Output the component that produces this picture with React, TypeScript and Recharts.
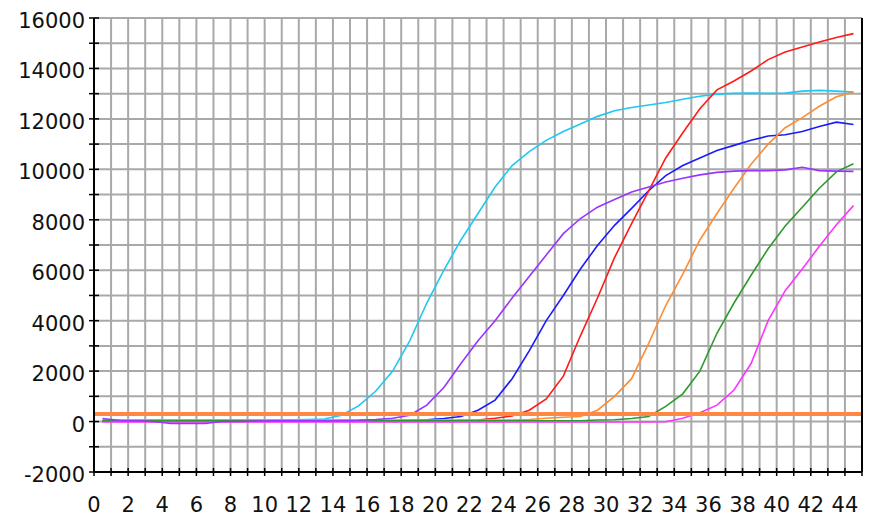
import { LineChart, Line, XAxis, YAxis, CartesianGrid, ReferenceLine } from "recharts";

// cycle positions (plotted between grid lines)
const cycles = [
  0.5, 1.5, 2.5, 3.5, 4.5, 5.5, 6.5, 7.5, 8.5, 9.5, 10.5, 11.5, 12.5, 13.5, 14.5,
  15.5, 16.5, 17.5, 18.5, 19.5, 20.5, 21.5, 22.5, 23.5, 24.5, 25.5, 26.5, 27.5, 28.5, 29.5,
  30.5, 31.5, 32.5, 33.5, 34.5, 35.5, 36.5, 37.5, 38.5, 39.5, 40.5, 41.5, 42.5, 43.5, 44.5,
];

const cyan = [
  60, 60, 60, 60, 60, 60, 60, 60, 60, 60, 60, 70, 80, 100, 250,
  620, 1200, 2000, 3200, 4700, 6000, 7200, 8250, 9300, 10150, 10700, 11150, 11500, 11800, 12100,
  12320, 12450, 12550, 12650, 12780, 12900, 12980, 13010, 13020, 13010, 13020, 13100, 13130, 13100, 13060,
];
const purple = [
  120, 40, 30, 0, -80, -80, -80, 0, 0, 20, 30, 30, 30, 30, 40,
  50, 80, 130, 250, 650, 1350, 2300, 3200, 4000, 4900, 5750, 6600, 7450, 8050, 8500,
  8800, 9100, 9300, 9500, 9650, 9780, 9880, 9930, 9950, 9950, 9980, 10080, 9950, 9930, 9920,
];
const blue = [
  10, 10, 10, 10, 10, 10, 10, 10, 10, 10, 10, 10, 10, 10, 10,
  10, 10, 30, 50, 70, 120, 200, 450, 850, 1700, 2800, 4000, 5000, 6050, 6980,
  7780, 8450, 9150, 9750, 10150, 10450, 10750, 10950, 11150, 11320, 11370, 11500, 11700, 11870, 11780,
];
const red = [
  10, 10, 10, 10, 10, 10, 10, 10, 10, 10, 10, 10, 10, 10, 10,
  10, 10, 10, 10, 10, 10, 50, 60, 130, 220, 450, 900, 1800, 3400, 4900,
  6500, 7850, 9150, 10450, 11450, 12400, 13150, 13500, 13900, 14350, 14650, 14850, 15050, 15230, 15380,
];
const orange = [
  60, 60, 60, 60, 60, 60, 60, 60, 60, 60, 60, 60, 60, 60, 60,
  60, 60, 60, 60, 60, 60, 60, 60, 60, 60, 80, 130, 170, 200, 450,
  1000, 1700, 3100, 4600, 5850, 7200, 8250, 9250, 10200, 11000, 11650, 12050, 12500, 12880, 13060,
];
const green = [
  30, 30, 30, 30, 30, 30, 30, 30, 30, 30, 30, 30, 30, 30, 30,
  30, 30, 30, 30, 30, 30, 30, 30, 30, 30, 30, 30, 30, 30, 60,
  70, 120, 200, 600, 1100, 2000, 3500, 4700, 5800, 6850, 7750, 8500, 9250, 9900, 10220,
];
const magenta = [
  -20, -20, -20, -20, -20, -20, -20, -20, -20, -20, -20, -20, -20, -20, -20,
  -20, -20, -20, -20, -20, -20, -20, -20, -20, -20, -20, -20, -20, -20, -20,
  -20, -20, -20, -10, 130, 350, 650, 1250, 2300, 4000, 5190, 6050, 6950, 7800, 8560,
];

const threshold = 300;

const xTicks = [
  0, 1, 2, 3, 4, 5, 6, 7, 8, 9, 10, 11, 12, 13, 14, 15, 16, 17, 18, 19, 20, 21, 22,
  23, 24, 25, 26, 27, 28, 29, 30, 31, 32, 33, 34, 35, 36, 37, 38, 39, 40, 41, 42, 43, 44, 45,
];
const yTicks = [
  -2000, -1000, 0, 1000, 2000, 3000, 4000, 5000, 6000, 7000, 8000, 9000, 10000,
  11000, 12000, 13000, 14000, 15000, 16000,
];

const data = cycles.map((x, i) => ({
  x,
  cyan: cyan[i],
  purple: purple[i],
  blue: blue[i],
  red: red[i],
  orange: orange[i],
  green: green[i],
  magenta: magenta[i],
}));

const font = { fontFamily: "DejaVu Sans", fontSize: 21, fill: "#111" };

function XTick(props: any) {
  const { x, y, payload } = props;
  const v = payload.value;
  return (
    <g>
      <line x1={x} x2={x} y1={y - 4} y2={y + 4} stroke="#000" strokeWidth={1.5} />
      {v % 2 === 0 && v < 45 && (
        <text x={x} y={y + 40} textAnchor="middle" {...font}>
          {v}
        </text>
      )}
    </g>
  );
}

function LeftTick(props: any) {
  const { x, y, payload } = props;
  const v = payload.value;
  return (
    <g>
      <line x1={x - 5} x2={x + 5} y1={y} y2={y} stroke="#000" strokeWidth={1.5} />
      {v % 2000 === 0 && (
        <text x={x - 9} y={y + 10} textAnchor="end" {...font}>
          {v}
        </text>
      )}
    </g>
  );
}

function RightTick(props: any) {
  const { x, y, payload } = props;
  const v = payload.value;
  return (
    <g>
      <line x1={x - 5} x2={x + 5} y1={y} y2={y} stroke="#000" strokeWidth={1.5} />
      {v % 2000 === 0 && (
        <text x={x + 8} y={y + 10} textAnchor="start" {...font}>
          {v}
        </text>
      )}
    </g>
  );
}

export default function App() {
  return (
    <div style={{ position: "absolute", left: 0, top: 0, background: "#fff" }}>
      <LineChart
        width={877}
        height={517}
        data={data}
        margin={{ top: 18, right: 0, bottom: 0, left: 0 }}
      >
        <CartesianGrid yAxisId="left" stroke="#A9A9A9" strokeWidth={2} />
        <XAxis
          dataKey="x"
          type="number"
          domain={[0, 45]}
          ticks={xTicks}
          interval={0}
          height={45}
          tickSize={0}
          tickMargin={0}
          tickLine={false}
          axisLine={{ stroke: "#000", strokeWidth: 2 }}
          tick={<XTick />}
        />
        <YAxis
          yAxisId="left"
          domain={[-2000, 16000]}
          ticks={yTicks}
          interval={0}
          width={94}
          tickSize={0}
          tickMargin={0}
          tickLine={false}
          axisLine={{ stroke: "#000", strokeWidth: 2 }}
          tick={<LeftTick />}
        />
        <YAxis
          yAxisId="right"
          orientation="right"
          domain={[-2000, 16000]}
          ticks={yTicks}
          interval={0}
          width={15}
          tickSize={0}
          tickMargin={0}
          tickLine={false}
          axisLine={{ stroke: "#000", strokeWidth: 2 }}
          tick={<RightTick />}
        />
        <Line yAxisId="left" type="linear" dataKey="cyan" stroke="#1FC8F2" strokeWidth={1.6} dot={false} isAnimationActive={false} />
        <Line yAxisId="left" type="linear" dataKey="blue" stroke="#1A1AFF" strokeWidth={1.6} dot={false} isAnimationActive={false} />
        <Line yAxisId="left" type="linear" dataKey="red" stroke="#FF1A1A" strokeWidth={1.6} dot={false} isAnimationActive={false} />
        <Line yAxisId="left" type="linear" dataKey="orange" stroke="#FF8C33" strokeWidth={1.6} dot={false} isAnimationActive={false} />
        <Line yAxisId="left" type="linear" dataKey="green" stroke="#2E9A2E" strokeWidth={1.6} dot={false} isAnimationActive={false} />
        <Line yAxisId="left" type="linear" dataKey="magenta" stroke="#FF33FF" strokeWidth={1.6} dot={false} isAnimationActive={false} />
        <Line yAxisId="left" type="linear" dataKey="purple" stroke="#9933FF" strokeWidth={1.6} dot={false} isAnimationActive={false} />
        <ReferenceLine yAxisId="left" y={threshold} stroke="#FF8844" strokeWidth={4} />
      </LineChart>
    </div>
  );
}
